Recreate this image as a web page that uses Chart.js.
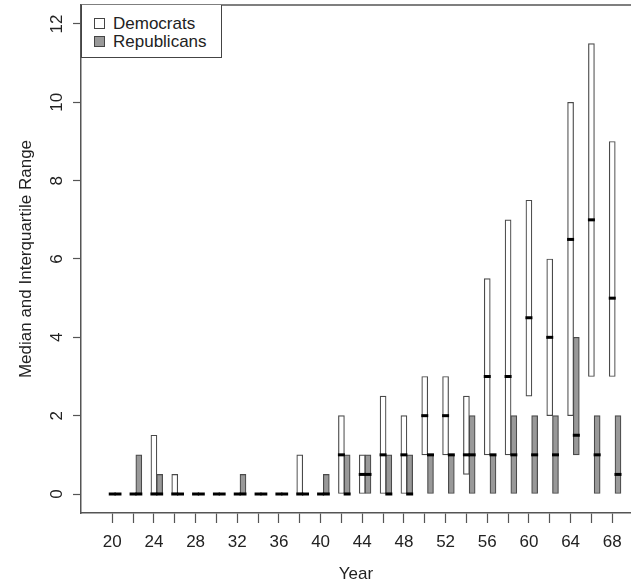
<!DOCTYPE html>
<html>
<head>
<meta charset="utf-8">
<script src="https://cdn.jsdelivr.net/npm/chart.js@4"></script>
<style>
    body { margin: 0; background: #fff; }
    #wrap { position: relative; width: 631px; height: 586px; overflow: hidden; }
    #legend {
        position: absolute; left: 81px; top: 5px; width: 139px;
        border: 1px solid #444; border-top: none; background: #fff;
        font: 17px "Liberation Sans", Arial, sans-serif; color: #222;
        padding-top: 10px; box-sizing: content-box; height: 42px;
    }
    #legend div { height: 18px; line-height: 18px; white-space: nowrap; }
    #legend span { display: inline-block; width: 9px; height: 9px; border: 1px solid #444;
        margin: 0 8px 0 12px; vertical-align: 0px; }
</style>
</head>
<body>
<div id="wrap">
    <canvas id="chart" width="631" height="586"></canvas>
    <div id="legend">
        <div><span style="background:#fff"></span>Democrats</div>
        <div><span style="background:#999"></span>Republicans</div>
    </div>
</div>
<script>
// congress years (x positions) and box stats
const years = [20, 22, 24, 26, 28, 30, 32, 34, 36, 38, 40, 42, 44, 46, 48, 50, 52, 54, 56, 58, 60, 62, 64, 66, 68];

const demQ1     = [0, 0, 0, 0,   0, 0, 0, 0, 0, 0, 0, 0, 0,   0,   0, 1, 1, 0.5, 1,   1, 2.5, 2, 2,   3,    3];
const demMedian = [0, 0, 0, 0,   0, 0, 0, 0, 0, 0, 0, 1, 0.5, 1,   1, 2, 2, 1,   3,   3, 4.5, 4, 6.5, 7,    5];
const demQ3     = [0, 0, 1.5, 0.5, 0, 0, 0, 0, 0, 1, 0, 2, 1, 2.5, 2, 3, 3, 2.5, 5.5, 7, 7.5, 6, 10,  11.5, 9];

const repQ1     = [0, 0, 0,   0, 0, 0, 0,   0, 0, 0, 0,   0, 0,   0, 0, 0, 0, 0, 0, 0, 0, 0, 1,   0, 0];
const repMedian = [0, 0, 0,   0, 0, 0, 0,   0, 0, 0, 0,   0, 0.5, 0, 0, 1, 1, 1, 1, 1, 1, 1, 1.5, 1, 0.5];
const repQ3     = [0, 1, 0.5, 0, 0, 0, 0.5, 0, 0, 0, 0.5, 1, 1,   1, 1, 1, 1, 2, 1, 2, 2, 2, 4,   2, 2];

const yTicks = [0, 2, 4, 6, 8, 10, 12];

const REP_SHIFT = 0.55;   // republican box sits just right of the year
const FONT = '"Liberation Sans", Arial, sans-serif';

function boxes(q1, q3, shift) {
    return years.map((yr, i) => ({x: yr + shift, y: [q1[i], q3[i]]}));
}
function medians(med, shift) {
    return years.map((yr, i) => ({x: yr + shift, y: med[i]}));
}

const topLine = {
    id: 'topLine',
    afterDraw(chart) {
        const a = chart.chartArea;
        const ctx = chart.ctx;
        ctx.save();
        ctx.strokeStyle = '#555';
        ctx.lineWidth = 1.5;
        ctx.beginPath();
        ctx.moveTo(a.left, a.top);
        ctx.lineTo(a.right, a.top);
        ctx.stroke();
        ctx.restore();
    }
};

const boxStyle = {
    grouped: false,
    barThickness: 6,
    borderWidth: 1.2,
    borderColor: '#4a4a4a',
    borderSkipped: false
};
const medStyle = {
    type: 'scatter',
    pointStyle: 'line',
    radius: 3.5,
    hoverRadius: 3.5,
    borderWidth: 3,
    borderColor: '#000',
    backgroundColor: '#000',
    order: 1
};

const data = {
    datasets: [
        Object.assign({label: 'Democrats', data: boxes(demQ1, demQ3, 0), backgroundColor: '#fff', order: 3}, boxStyle),
        Object.assign({label: 'Republicans', data: boxes(repQ1, repQ3, REP_SHIFT), backgroundColor: '#999', order: 2}, boxStyle),
        Object.assign({label: 'dem median', data: medians(demMedian, 0)}, medStyle),
        Object.assign({label: 'rep median', data: medians(repMedian, REP_SHIFT)}, medStyle)
    ]
};

const config = {
    type: 'bar',
    data: data,
    plugins: [topLine],
    options: {
        responsive: false,
        animation: false,
        events: [],
        layout: {autoPadding: false, padding: {top: 5, right: 0, bottom: 0, left: 0}},
        plugins: {legend: {display: false}, tooltip: {enabled: false}},
        scales: {
            x: {
                type: 'linear',
                min: 17,
                max: 69.8,
                offset: false,
                grid: {offset: false, drawOnChartArea: false, drawTicks: true, tickLength: 10, color: '#555', tickWidth: 1.2},
                border: {display: true, color: '#555', width: 1.5},
                afterBuildTicks(scale) { scale.ticks = years.map(v => ({value: v})); },
                afterFit(scale) {
                    scale.height = 73;
                    scale.paddingLeft = 0;
                    scale.paddingRight = 0;
                },
                ticks: {
                    autoSkip: false,
                    maxRotation: 0,
                    padding: 9,
                    color: '#222',
                    font: {family: FONT, size: 17},
                    callback: v => (v % 4 === 0 ? String(v) : '')
                },
                title: {display: true, text: 'Year', color: '#222', font: {family: FONT, size: 17}, padding: {top: 0, bottom: 1}}
            },
            y: {
                min: -0.485,
                max: 12.485,
                grid: {drawOnChartArea: false, drawTicks: true, tickLength: 8, color: '#555', tickWidth: 1.2},
                border: {display: true, color: '#555', width: 1.5},
                afterBuildTicks(scale) { scale.ticks = yTicks.map(v => ({value: v})); },
                afterFit(scale) {
                    scale.width = 81;
                    scale.paddingTop = 0;
                    scale.paddingBottom = 0;
                },
                ticks: {
                    minRotation: 90,
                    maxRotation: 90,
                    crossAlign: 'center',
                    padding: 6,
                    color: '#222',
                    font: {family: FONT, size: 17}
                },
                title: {display: true, text: 'Median and Interquartile Range', color: '#222', font: {family: FONT, size: 17}, padding: {top: 16, bottom: 0}}
            }
        }
    }
};

let ctx = document.getElementById('chart').getContext('2d');
new Chart(ctx, config);
</script>
</body>
</html>
